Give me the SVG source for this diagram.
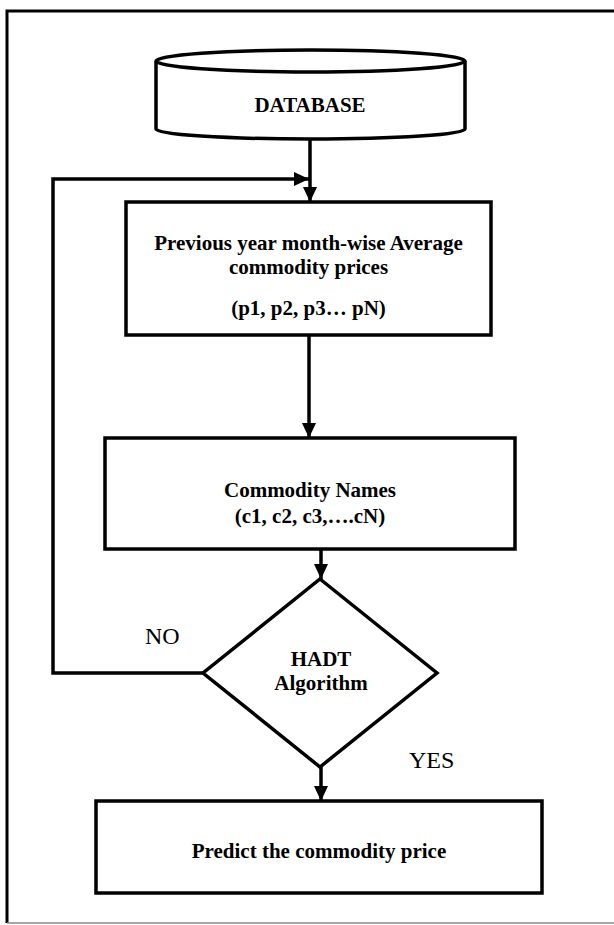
<svg xmlns="http://www.w3.org/2000/svg" width="614" height="925" viewBox="0 0 614 925">
<style>
.s{fill:none;stroke:#000;stroke-width:3.5}
.n{fill:#fff;stroke:#000;stroke-width:3.5}
.b{font-family:"Liberation Serif","Times New Roman",serif;font-weight:bold;font-size:21px;text-anchor:middle;fill:#000}
.r{font-family:"Liberation Serif","Times New Roman",serif;font-size:24px;fill:#000}
</style>
<defs>
<marker id="ah" viewBox="0 0 15 14" refX="15" refY="7" markerWidth="15" markerHeight="14" markerUnits="userSpaceOnUse" orient="auto">
<path d="M0,0 L15,7 L0,14 Z" fill="#000"/>
</marker>
</defs>
<rect width="614" height="925" fill="#fff"/>
<g id="frame">
<path d="M7,923 V11 H614" fill="none" stroke="#000" stroke-width="3"/>
<path d="M7,923 H614" fill="none" stroke="#888" stroke-width="1.5"/>
</g>
<g id="connectors">
<path class="s" d="M310,139 V202" marker-end="url(#ah)"/>
<path class="s" d="M203,673 H53 V179 H309" marker-end="url(#ah)"/>
<path class="s" d="M309,335 V438" marker-end="url(#ah)"/>
<path class="s" d="M321,549 V579" marker-end="url(#ah)"/>
<path class="s" d="M321,767 V801" marker-end="url(#ah)"/>
</g>
<g id="database">
<path class="n" d="M156,61 V129 A154.5,10 0 0 0 465,129 V61"/>
<ellipse class="n" cx="310.5" cy="61" rx="154.5" ry="11"/>
<text class="b" x="310" y="112">DATABASE</text>
</g>
<g id="prices">
<rect class="n" x="126" y="202" width="365" height="133"/>
<text class="b" x="308.5" y="250">Previous year month-wise Average</text>
<text class="b" x="308.5" y="274">commodity prices</text>
<text class="b" x="308.5" y="315">(p1, p2, p3… pN)</text>
</g>
<g id="names">
<rect class="n" x="105" y="438" width="410" height="111"/>
<text class="b" x="310" y="497">Commodity Names</text>
<text class="b" x="310" y="523">(c1, c2, c3,….cN)</text>
</g>
<g id="hadt">
<path class="n" d="M320,579 L437,673 L320,767 L203,673 Z"/>
<text class="b" x="321" y="666">HADT</text>
<text class="b" x="321" y="690">Algorithm</text>
</g>
<g id="labels">
<text class="r" x="145" y="644">NO</text>
<text class="r" x="409" y="768">YES</text>
</g>
<g id="predict">
<rect class="n" x="96" y="801" width="446" height="92"/>
<text class="b" x="319" y="858">Predict the commodity price</text>
</g>
</svg>
